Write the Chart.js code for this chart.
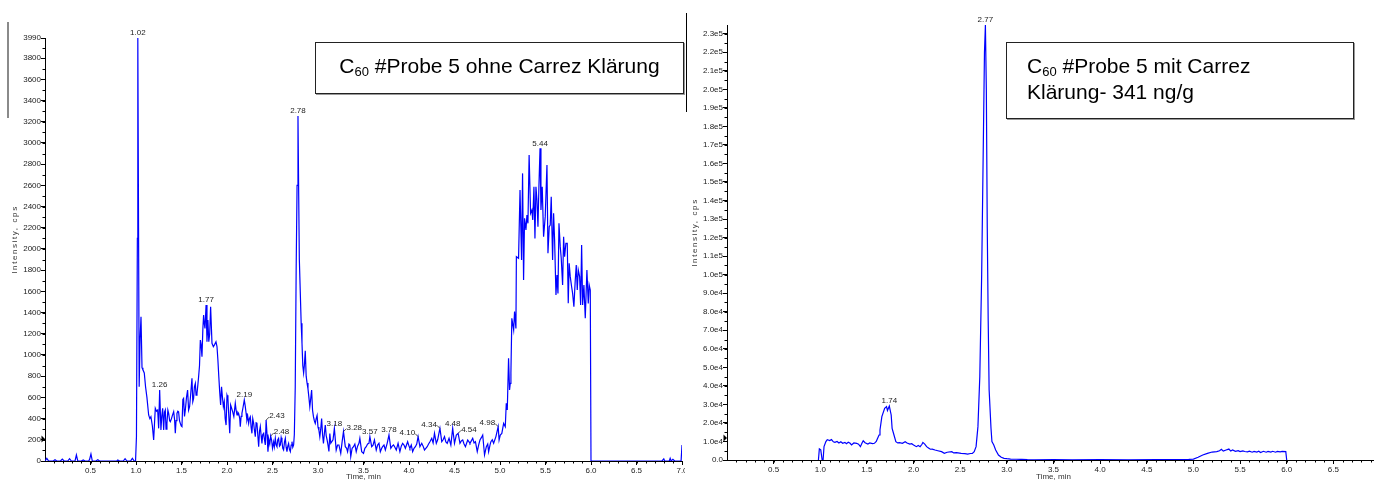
<!DOCTYPE html>
<html>
<head>
<meta charset="utf-8">
<script src="https://cdn.jsdelivr.net/npm/chart.js@4.4.1/dist/chart.umd.min.js"></script>
<style>
  html, body { margin: 0; padding: 0; background: #fff; }
  body { position: relative; width: 1374px; height: 481px; overflow: hidden; font-family: 'Liberation Sans', Arial, sans-serif; }
  canvas { position: absolute; top: 0; }
  #chartOhne { left: 0; }
  #chartMit { left: 686px; }
  .rule { position: absolute; }
  #ruleGrey { left: 7px; top: 22px; width: 2px; height: 96px; background: #8a8a8a; }
  #ruleBlack { left: 686px; top: 13px; width: 1px; height: 99px; background: #000; }
  .box { position: absolute; box-sizing: border-box; border: 1px solid #222; box-shadow: 1px 1px 0 #999; background: #fff; color: #000; font-size: 21px; line-height: 23px; }
  .box .sub { font-size: 13px; position: relative; top: 3px; }
  #boxOhne { left: 315px; top: 42px; width: 369px; height: 52px; padding-top: 11px; text-align: center; }
  #boxMit { left: 1006px; top: 42px; width: 348px; height: 77px; padding: 11px 0 0 20px; }
</style>
</head>
<body>
<canvas id="chartOhne" width="685" height="481"></canvas>
<canvas id="chartMit" width="700" height="481"></canvas>
<div class="rule" id="ruleGrey"></div>
<div class="rule" id="ruleBlack"></div>
<div class="box" id="boxOhne">C<span class="sub">60</span> #Probe 5 ohne Carrez Klärung</div>
<div class="box" id="boxMit">C<span class="sub">60</span> #Probe 5 mit Carrez<br>Klärung- 341 ng/g</div>
<script>
// XIC C60, Probe 5 ohne Carrez-Klärung: [Zeit min, Intensität cps]
const ohneCarrez = [
  [0,0],[0.02,25],[0.04,0],[0.09,0],[0.11,12],[0.13,0],[0.17,0],[0.19,18],[0.21,0],[0.25,0],[0.27,22],[0.29,0],
  [0.33,0],[0.345,57],[0.36,0],[0.40,0],[0.42,10],[0.44,0],[0.48,0],[0.49,15],[0.505,66],[0.52,0],[0.56,0],[0.58,12],
  [0.60,0],[0.70,0],[0.79,0],[0.80,10],[0.82,0],[0.86,0],[0.88,22],[0.90,0],[0.94,0],[0.96,25],[0.98,0],[0.995,0],
  [1.005,230],[1.015,2100],[1.02,3990],[1.028,2200],[1.035,700],[1.045,1150],[1.055,1360],[1.066,880],[1.076,860],
  [1.091,830],[1.105,700],[1.12,600],[1.139,434],[1.152,400],[1.164,418],[1.18,330],[1.194,198],[1.212,497],[1.225,470],
  [1.238,481],[1.249,308],[1.26,670],[1.274,292],[1.283,420],[1.293,497],[1.304,292],[1.313,460],[1.322,481],[1.33,300],
  [1.34,355],[1.35,480],[1.359,449],[1.37,380],[1.377,371],[1.39,400],[1.40,430],[1.414,465],[1.424,390],[1.432,261],
  [1.44,380],[1.45,449],[1.46,470],[1.468,465],[1.478,380],[1.487,355],[1.497,330],[1.505,324],[1.515,580],[1.523,591],
  [1.533,420],[1.542,481],[1.555,600],[1.567,669],[1.578,480],[1.589,512],[1.60,620],[1.615,780],[1.624,560],[1.633,591],
  [1.642,700],[1.652,732],[1.66,620],[1.67,638],[1.68,720],[1.688,795],[1.698,900],[1.707,1141],[1.715,1100],[1.725,984],
  [1.735,1250],[1.743,1377],[1.75,1300],[1.758,1251],[1.77,1471],[1.78,1125],[1.79,1330],[1.80,1125],[1.81,1200],
  [1.82,1455],[1.835,1110],[1.85,1078],[1.865,1100],[1.879,1125],[1.89,1080],[1.90,952],[1.91,795],[1.92,650],[1.93,528],
  [1.94,700],[1.95,600],[1.96,512],[1.97,560],[1.98,400],[1.99,339],[2.00,620],[2.01,591],[2.02,420],[2.03,261],
  [2.04,528],[2.05,500],[2.062,465],[2.075,420],[2.091,544],[2.10,480],[2.11,434],[2.12,460],[2.128,449],[2.14,400],
  [2.146,324],[2.155,420],[2.164,449],[2.175,500],[2.19,575],[2.20,520],[2.21,450],[2.219,386],[2.228,420],[2.238,355],
  [2.246,400],[2.256,418],[2.265,320],[2.274,261],[2.283,400],[2.293,355],[2.30,300],[2.311,229],[2.32,360],[2.329,355],
  [2.338,250],[2.348,135],[2.357,280],[2.366,324],[2.375,240],[2.384,166],[2.393,250],[2.403,261],[2.412,200],[2.421,151],
  [2.43,386],[2.44,250],[2.45,88],[2.46,200],[2.47,160],[2.48,236],[2.49,198],[2.50,120],[2.512,180],[2.52,135],
  [2.531,214],[2.54,150],[2.549,135],[2.558,200],[2.567,214],[2.577,140],[2.586,151],[2.595,220],[2.604,182],[2.613,120],
  [2.622,104],[2.632,180],[2.641,214],[2.65,130],[2.659,88],[2.668,140],[2.677,165],[2.686,110],[2.696,88],[2.705,150],
  [2.714,182],[2.723,130],[2.732,151],[2.74,250],[2.75,700],[2.76,1800],[2.77,2600],[2.78,3254],[2.788,2500],[2.795,1900],
  [2.805,1600],[2.815,1300],[2.824,1113],[2.833,900],[2.842,830],[2.85,900],[2.86,1040],[2.87,800],[2.88,735],[2.89,680],
  [2.90,600],[2.91,512],[2.92,590],[2.93,670],[2.94,480],[2.95,418],[2.96,380],[2.97,355],[2.98,400],[2.99,430],
  [3.00,320],[3.01,290],[3.02,228],[3.03,300],[3.04,400],[3.05,250],[3.06,165],[3.07,260],[3.08,340],[3.09,240],
  [3.10,200],[3.11,150],[3.12,90],[3.13,260],[3.14,167],[3.15,180],[3.165,200],[3.18,308],[3.20,104],[3.215,151],
  [3.23,151],[3.25,72],[3.265,180],[3.28,277],[3.30,135],[3.315,120],[3.325,88],[3.34,160],[3.35,151],[3.36,41],
  [3.375,120],[3.39,135],[3.405,160],[3.42,88],[3.435,140],[3.45,167],[3.46,214],[3.48,88],[3.50,72],[3.515,120],
  [3.53,135],[3.545,160],[3.56,167],[3.57,230],[3.59,135],[3.605,150],[3.62,198],[3.64,104],[3.655,150],[3.67,167],
  [3.685,88],[3.70,120],[3.71,135],[3.725,150],[3.74,104],[3.76,167],[3.78,245],[3.80,120],[3.815,140],[3.83,151],
  [3.845,130],[3.86,104],[3.88,167],[3.90,88],[3.915,140],[3.93,167],[3.945,150],[3.96,120],[3.985,182],[4.00,140],
  [4.01,120],[4.025,150],[4.04,88],[4.055,120],[4.07,135],[4.085,160],[4.10,230],[4.12,135],[4.14,167],[4.155,140],
  [4.17,104],[4.185,120],[4.20,135],[4.215,160],[4.23,182],[4.25,214],[4.265,170],[4.28,261],[4.30,167],[4.315,200],
  [4.325,245],[4.34,308],[4.36,182],[4.375,200],[4.39,230],[4.405,180],[4.42,167],[4.44,214],[4.46,151],[4.48,308],
  [4.50,167],[4.52,245],[4.54,261],[4.56,167],[4.575,190],[4.59,198],[4.605,160],[4.62,135],[4.645,198],[4.66,180],
  [4.67,167],[4.685,190],[4.70,214],[4.715,170],[4.73,182],[4.75,88],[4.765,150],[4.78,198],[4.795,220],[4.81,245],
  [4.83,57],[4.85,135],[4.865,160],[4.875,88],[4.89,150],[4.90,182],[4.915,200],[4.93,167],[4.955,230],[4.98,324],
  [4.99,198],[5.003,245],[5.02,260],[5.04,355],[5.058,324],[5.069,544],[5.08,481],[5.094,968],[5.105,670],[5.113,733],
  [5.12,827],[5.13,1346],[5.15,1236],[5.16,1409],[5.175,1251],[5.18,1927],[5.204,1912],[5.22,2556],[5.237,1896],
  [5.248,2713],[5.259,1707],[5.27,2289],[5.285,2179],[5.296,2320],[5.307,2242],[5.32,2886],[5.336,2336],[5.35,2367],
  [5.36,2273],[5.373,2587],[5.384,2100],[5.395,2587],[5.406,2462],[5.417,2210],[5.428,2600],[5.44,2949],[5.45,2367],
  [5.464,2587],[5.479,2116],[5.497,2305],[5.516,2792],[5.527,1959],[5.541,2210],[5.552,2226],[5.563,2493],[5.578,1896],
  [5.589,2336],[5.60,2085],[5.615,1566],[5.626,1754],[5.637,1581],[5.648,2242],[5.662,2022],[5.673,1912],[5.688,1660],
  [5.699,2116],[5.71,1927],[5.724,2053],[5.739,2053],[5.75,1487],[5.76,1864],[5.772,1739],[5.787,1644],[5.798,1581],
  [5.812,1456],[5.827,1707],[5.838,1849],[5.849,1613],[5.86,1801],[5.875,1739],[5.886,1471],[5.897,2037],[5.908,1471],
  [5.922,1660],[5.937,1346],[5.955,1801],[5.97,1487],[5.98,1660],[5.992,1613],[6.0,0],[6.78,0],[6.80,20],[6.81,0],
  [6.86,0],[6.87,25],[6.88,0],[6.90,15],[6.92,0],[6.99,0],[7.0,150]
];

// XIC C60, Probe 5 mit Carrez-Klärung: [Zeit min, Intensität cps]
const mitCarrez = [
  [0.98,0],[0.99,6000],[1.005,5500],[1.02,0],[1.03,0],[1.04,7200],[1.06,9900],[1.075,11000],[1.085,10800],
  [1.10,10500],[1.12,11000],[1.14,9800],[1.157,9500],[1.18,10000],[1.20,9200],[1.22,9800],[1.24,9000],[1.264,9500],
  [1.28,8800],[1.30,9600],[1.32,9000],[1.335,8100],[1.36,9200],[1.39,9000],[1.41,8500],[1.43,7200],[1.45,9500],
  [1.46,10400],[1.48,9300],[1.51,8600],[1.53,9200],[1.56,8800],[1.58,9000],[1.60,10000],[1.61,11200],[1.63,13500],
  [1.64,16200],[1.66,23400],[1.69,27900],[1.71,28800],[1.72,26700],[1.74,29100],[1.76,24300],[1.77,17100],[1.79,13500],
  [1.81,9900],[1.83,9200],[1.85,9400],[1.88,9000],[1.91,9900],[1.93,9200],[1.96,8600],[1.98,8800],[2.00,8100],
  [2.03,7200],[2.05,7800],[2.07,7200],[2.09,8500],[2.10,9500],[2.12,8600],[2.14,7200],[2.16,6500],[2.18,5800],
  [2.20,5900],[2.23,5400],[2.26,5000],[2.30,4500],[2.33,3600],[2.36,4200],[2.41,4500],[2.43,3800],[2.46,4000],
  [2.51,3600],[2.55,3400],[2.58,3200],[2.61,3500],[2.63,3600],[2.65,4500],[2.67,7200],[2.69,18000],[2.71,45000],
  [2.73,100000],[2.75,180000],[2.76,220000],[2.77,234700],[2.78,200000],[2.79,125000],[2.80,75000],[2.81,37800],
  [2.83,17100],[2.84,9900],[2.86,8100],[2.88,5400],[2.91,2700],[2.94,1500],[2.97,900],[3.00,700],[3.04,500],
  [3.10,400],[3.16,300],[3.22,150],[3.30,100],[3.50,150],[3.70,100],[4.00,150],[4.30,100],[4.60,200],[4.80,150],
  [4.95,300],[5.00,500],[5.05,1500],[5.10,2700],[5.15,3600],[5.20,4300],[5.25,4500],[5.28,5000],[5.30,5800],
  [5.32,4800],[5.35,5400],[5.38,5900],[5.40,4800],[5.42,5400],[5.45,4700],[5.48,5000],[5.50,4500],[5.53,4900],
  [5.55,4600],[5.58,4400],[5.60,4800],[5.63,4200],[5.65,4600],[5.68,4300],[5.70,4700],[5.72,4000],[5.75,4700],
  [5.78,4200],[5.80,4600],[5.83,4300],[5.85,4700],[5.88,4200],[5.90,4600],[5.93,4400],[5.95,4600],[5.99,4500],[6.0,0]
];

// beschriftete Peaks (Retentionszeiten)
const peaksOhne = [1.02, 1.26, 1.77, 2.19, 2.43, 2.48, 2.78, 3.18, 3.28, 3.57, 3.78, 4.10, 4.34, 4.48, 4.54, 4.98, 5.44];
const peaksMit = [1.74, 2.77];

// Achsenbeschriftung
const timeTicks = [0.5, 1.0, 1.5, 2.0, 2.5, 3.0, 3.5, 4.0, 4.5, 5.0, 5.5, 6.0, 6.5, 7.0];
const ohneTicks = [0, 200, 400, 600, 800, 1000, 1200, 1400, 1600, 1800, 2000, 2200, 2400, 2600, 2800, 3000, 3200, 3400, 3600, 3800, 3990];
const mitTicks = [0, 1e4, 2e4, 3e4, 4e4, 5e4, 6e4, 7e4, 8e4, 9e4, 1e5, 1.1e5, 1.2e5, 1.3e5, 1.4e5, 1.5e5, 1.6e5, 1.7e5, 1.8e5, 1.9e5, 2e5, 2.1e5, 2.2e5, 2.3e5];

// Schwellenmarke an der y-Achse
const thresholdOhne = 207;
const thresholdMit = 11900;

const FONT = "'Liberation Sans', Arial, sans-serif";
Chart.defaults.font.family = FONT;

function sciLabel(v) {
  if (v === 0) return '0.0';
  const e = Math.floor(Math.log10(v) + 1e-9);
  return (v / Math.pow(10, e)).toFixed(1) + 'e' + e;
}

// kleine Zwischenstriche an beiden Achsen
const minorTicks = {
  id: 'minorTicks',
  afterDraw(chart, args, opts) {
    const ctx = chart.ctx, xs = chart.scales.x, ys = chart.scales.y;
    ctx.save();
    ctx.strokeStyle = '#000';
    ctx.lineWidth = 1;
    ctx.beginPath();
    for (let i = 1; i * opts.xStep <= xs.max + 1e-9; i++) {
      const px = Math.round(xs.getPixelForValue(i * opts.xStep)) + 0.5;
      ctx.moveTo(px, ys.bottom);
      ctx.lineTo(px, ys.bottom + 2.5);
    }
    for (let i = 1; i * opts.yStep <= ys.max + 1e-9; i++) {
      const py = Math.round(ys.getPixelForValue(i * opts.yStep)) + 0.5;
      ctx.moveTo(xs.left, py);
      ctx.lineTo(xs.left - 2.5, py);
    }
    ctx.stroke();

    // Dreieck für die Schwelle
    const ty = ys.getPixelForValue(opts.threshold);
    ctx.fillStyle = '#000';
    ctx.beginPath();
    ctx.moveTo(xs.left, ty);
    ctx.lineTo(xs.left - 3.5, ty - 3.5);
    ctx.lineTo(xs.left - 3.5, ty + 3.5);
    ctx.closePath();
    ctx.fill();
    ctx.restore();
  }
};

// Retentionszeiten über die Peaks schreiben
const peakLabels = {
  id: 'peakLabels',
  afterDatasetsDraw(chart, args, opts) {
    const ctx = chart.ctx, xs = chart.scales.x, ys = chart.scales.y;
    const pts = chart.data.datasets[0].data;
    ctx.save();
    ctx.font = '8px ' + FONT;
    ctx.fillStyle = '#222';
    ctx.strokeStyle = '#222';
    ctx.lineWidth = 0.8;
    opts.times.forEach(t => {
      const p = pts.find(d => d.x === t);
      if (!p) return;
      const px = xs.getPixelForValue(p.x), py = ys.getPixelForValue(p.y);
      const txt = t.toFixed(2);
      const side = opts.side[txt];
      if (!side) {
        ctx.textAlign = 'center';
        ctx.textBaseline = 'bottom';
        ctx.fillText(txt, px, py - 1);
      } else {
        const dir = side === 'r' ? 1 : -1;
        ctx.beginPath();
        ctx.moveTo(px, py);
        ctx.lineTo(px + dir * 3, py - 3);
        ctx.stroke();
        ctx.textAlign = side === 'r' ? 'left' : 'right';
        ctx.textBaseline = 'middle';
        ctx.fillText(txt, px + dir * 3, py - 4);
      }
    });
    ctx.restore();
  }
};

// gesperrter Titel der y-Achse
const yTitle = {
  id: 'yTitle',
  afterDraw(chart, args, opts) {
    const a = chart.chartArea, ctx = chart.ctx;
    ctx.save();
    ctx.translate(opts.x, (a.top + a.bottom) / 2 + opts.dy);
    ctx.rotate(-Math.PI / 2);
    ctx.font = '8px ' + FONT;
    ctx.letterSpacing = '1.6px';
    ctx.fillStyle = '#333';
    ctx.textAlign = 'center';
    ctx.textBaseline = 'middle';
    ctx.fillText(opts.text, 0, 0);
    ctx.restore();
  }
};

function buildChart(id, series, peaks, yMax, yTicks, cfg) {
  return new Chart(document.getElementById(id), {
    type: 'line',
    data: {
      datasets: [{
        data: series.map(p => ({ x: p[0], y: p[1] })),
        borderColor: '#0000ff',
        borderWidth: 1.2,
        pointRadius: 0,
        tension: 0,
        fill: false
      }]
    },
    options: {
      responsive: false,
      animation: false,
      devicePixelRatio: 1,
      events: [],
      layout: { padding: cfg.padding },
      plugins: {
        legend: { display: false },
        tooltip: { enabled: false },
        minorTicks: { xStep: 0.1, yStep: cfg.yMinor, threshold: cfg.threshold },
        peakLabels: { times: peaks, side: cfg.sides },
        yTitle: { text: 'Intensity, cps', x: cfg.titleX, dy: -10 }
      },
      scales: {
        x: {
          type: 'linear',
          min: 0,
          max: 7,
          afterBuildTicks: s => { s.ticks = timeTicks.map(v => ({ value: v })); },
          afterFit: s => { s.height = cfg.xHeight; s.paddingLeft = 0; s.paddingRight = 0; },
          grid: { drawOnChartArea: false, tickLength: 4, color: '#000' },
          border: { color: '#000', width: 1 },
          ticks: { autoSkip: false, maxRotation: 0, padding: 1, color: '#222', font: { size: 8 }, callback: v => v.toFixed(1) },
          title: { display: true, text: 'Time, min', color: '#333', font: { size: 8 }, padding: { top: 0, bottom: -1 } }
        },
        y: {
          type: 'linear',
          min: 0,
          max: yMax,
          afterBuildTicks: s => { s.ticks = yTicks.map(v => ({ value: v })); },
          afterFit: s => { s.width = cfg.yWidth; s.paddingTop = 0; s.paddingBottom = 0; },
          grid: { drawOnChartArea: false, tickLength: 4, color: '#000' },
          border: { color: '#000', width: 1 },
          ticks: { autoSkip: false, padding: 0, color: '#222', font: { size: 8 }, callback: cfg.yLabel }
        }
      }
    },
    plugins: [minorTicks, peakLabels, yTitle]
  });
}

buildChart('chartOhne', ohneCarrez, peaksOhne, 3990, ohneTicks, {
  padding: { top: 38, right: 3, bottom: 0, left: 0 },
  xHeight: 20, yWidth: 45, yMinor: 100, titleX: 15, threshold: thresholdOhne,
  yLabel: v => String(v),
  sides: { '2.43': 'r', '2.48': 'r', '3.28': 'r', '4.54': 'r', '4.10': 'l', '4.34': 'l', '4.98': 'l' }
});

buildChart('chartMit', mitCarrez, peaksMit, 234700, mitTicks, {
  padding: { top: 25, right: 6, bottom: 0, left: 0 },
  xHeight: 21, yWidth: 41, yMinor: 5000, titleX: 9, threshold: thresholdMit,
  yLabel: v => sciLabel(v),
  sides: {}
});
</script>
</body>
</html>
